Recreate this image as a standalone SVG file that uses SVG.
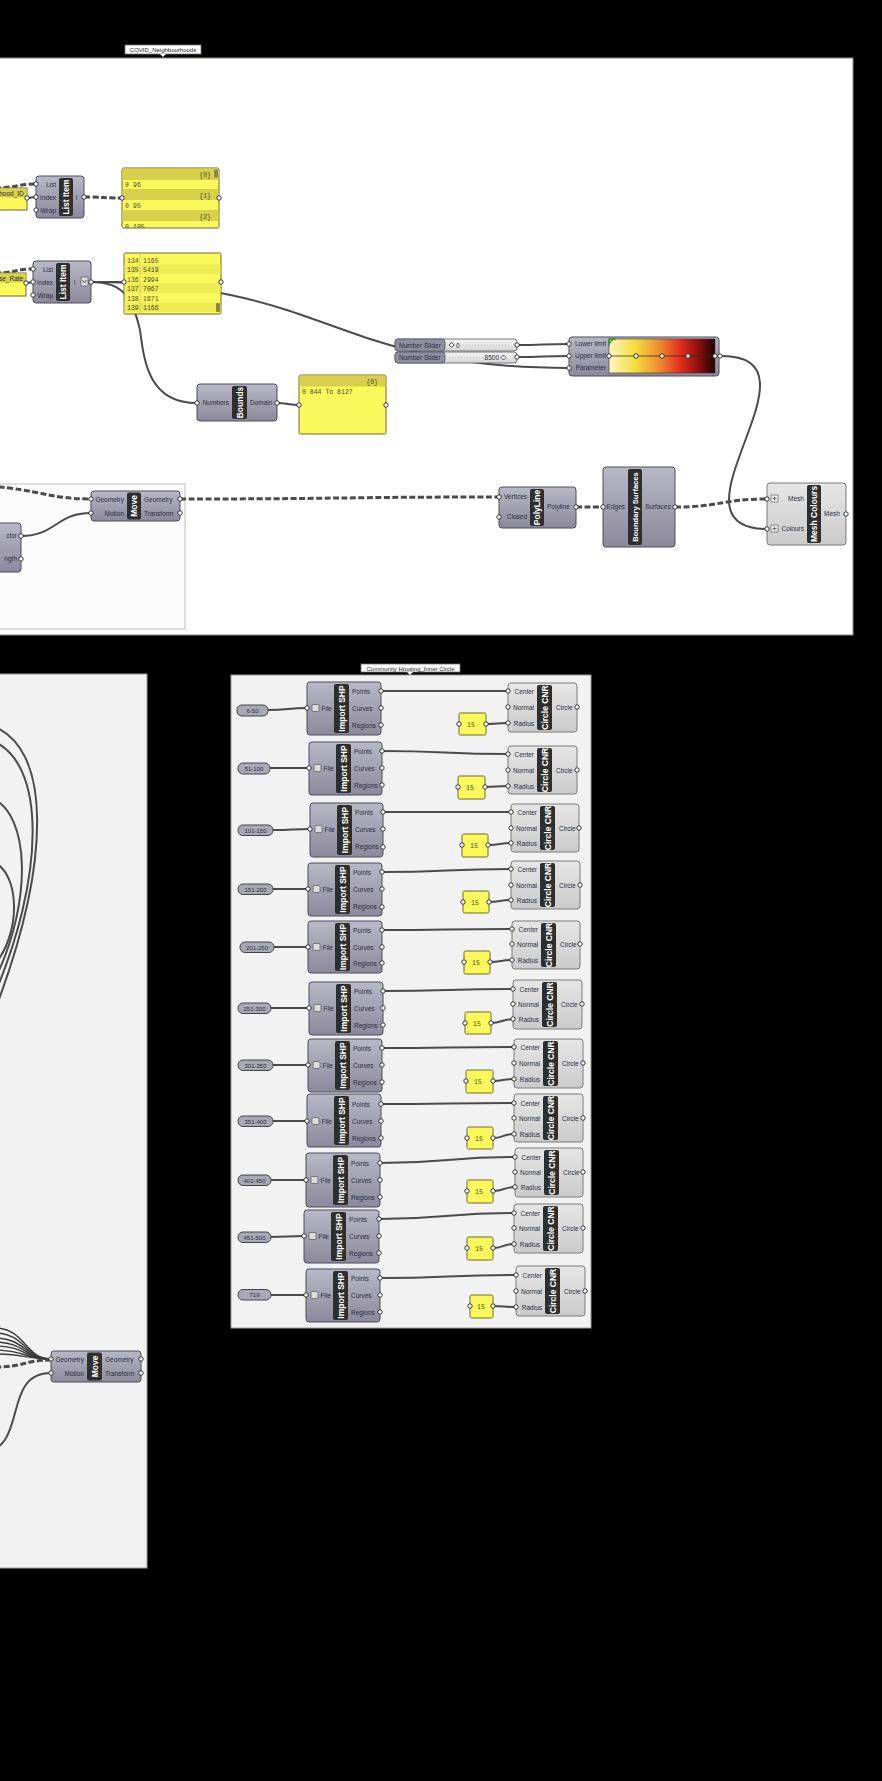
<svg xmlns="http://www.w3.org/2000/svg" width="882" height="1781" viewBox="0 0 882 1781">
<defs>
<linearGradient id="gc" x1="0" y1="0" x2="0" y2="1"><stop offset="0" stop-color="#b9b8c7"/><stop offset="1" stop-color="#8b899b"/></linearGradient>
<linearGradient id="gl" x1="0" y1="0" x2="0" y2="1"><stop offset="0" stop-color="#e6e6e6"/><stop offset="1" stop-color="#cbcbcb"/></linearGradient>
<linearGradient id="gs" x1="0" y1="0" x2="0" y2="1"><stop offset="0" stop-color="#f4f4f4"/><stop offset="1" stop-color="#d6d6d6"/></linearGradient>
<linearGradient id="grad" x1="0" y1="0" x2="1" y2="0"><stop offset="0" stop-color="#fff6c4"/><stop offset="0.25" stop-color="#f5dc3a"/><stop offset="0.48" stop-color="#ef8a30"/><stop offset="0.68" stop-color="#e02a1e"/><stop offset="0.85" stop-color="#8a0f0c"/><stop offset="1" stop-color="#1e0404"/></linearGradient>
<clipPath id="cp1"><rect x="0" y="0" width="97" height="60"/></clipPath>
<clipPath id="cp2"><rect x="0" y="0" width="97" height="61"/></clipPath>
<clipPath id="cph"><rect x="0" y="0" width="31" height="22"/></clipPath>
<clipPath id="cpr"><rect x="0" y="0" width="30" height="23"/></clipPath>
</defs>
<style>
.comp{fill:url(#gc);stroke:#4e4d5a;stroke-width:1}
.compL{fill:url(#gl);stroke:#7a7a7a;stroke-width:1}
.strip{fill:#2e2e2e}
.st{font-family:"Liberation Sans",Arial,sans-serif;font-weight:bold;font-size:8.5px;fill:#fff}
.lb{font-family:"Liberation Sans",Arial,sans-serif;font-size:6.5px;fill:#2b2b3f}
.lbe{font-family:"Liberation Sans",Arial,sans-serif;font-size:6.5px;fill:#2b2b3f;text-anchor:end}
.lbm{font-family:"Liberation Sans",Arial,sans-serif;font-size:6px;fill:#2b2b3f;text-anchor:middle}
.tag{font-family:"Liberation Sans",Arial,sans-serif;font-size:6px;fill:#222;text-anchor:middle}
.port{fill:#fff;stroke:#222;stroke-width:0.9}
.w{fill:none;stroke:#4b4b4b;stroke-width:2}
.wt{fill:none;stroke:#3a3a3a;stroke-width:1.4}
.wd{fill:none;stroke:#4b4b4b;stroke-width:3;stroke-dasharray:6 2.5}
.pan{fill:#fbf85c;stroke:#6e6b2e;stroke-width:1}
.panh{fill:#d8d04a}
.panb{fill:#efeb52}
.mono{font-family:"Liberation Mono","DejaVu Sans Mono",monospace;font-size:6.5px;fill:#4a4a30}
.vl{fill:#a9a8b6;stroke:#444;stroke-width:1}
.grp{fill:#f2f2f2;stroke:#9a9a9a;stroke-width:1}
</style>
<rect x="0" y="0" width="882" height="1781" fill="#000"/>

<!-- Groups -->
<g id="group-covid">
<rect x="-2" y="58" width="855" height="577" fill="#fff" stroke="#8a8a8a" stroke-width="1"/>
<rect x="-2" y="484" width="187" height="145" fill="#fcfcfc" stroke="#bdbdbd" stroke-width="1"/>
<rect x="125" y="45" width="76" height="9" fill="#fff" stroke="#777" stroke-width="0.8"/>
<path d="M160,54 L166,54 L163,57 Z" fill="#fff"/>
<text class="tag" x="163" y="52">COVID_Neighbourhoods</text>
</g>
<g id="group-left">
<rect class="grp" x="-2" y="674" width="149" height="894"/>
</g>
<g id="group-housing">
<rect class="grp" x="231" y="675" width="360" height="653"/>
<rect x="361" y="664" width="99" height="8" fill="#fff" stroke="#777" stroke-width="0.8"/>
<path d="M407,672 L413,672 L410,675 Z" fill="#fff"/>
<text class="tag" x="410.5" y="670.5">Community Housing_Inner Circle</text>
</g>

<!-- Connectors -->
<g id="connectors">
<path class="wd" d="M-5,188 C15,188 18,184 36,184"/>
<path class="w" d="M27,198 C31,198 32,197 36,197"/>
<path class="wd" d="M84,197 C103,197 103,198 122,198"/>
<path class="wd" d="M-5,273 C15,273 15,269 33,269"/>
<path class="w" d="M26,283 C29,283 30,282 33,282"/>
<path class="w" d="M91,282 C108,282 108,282 124,282"/>
<path class="w" d="M91,282 C125,282 133,300 140,330 C144,360 148,403 197,403"/>
<path class="w" d="M91,282 C330,282 330,368 569,368"/>
<path class="w" d="M277,403 C288,403 288,405 299,405"/>
<path class="w" d="M517,345 C543,345 543,344 569,344"/>
<path class="w" d="M517,357 C543,357 543,356 569,356"/>
<path class="w" d="M722,356 C832,356 657,529 767,529"/>
<path class="w" d="M21,536 C56,536 56,513 91,513"/>
<path class="wd" d="M-10,486 C40,490 50,499 91,499"/>
<path class="wd" d="M180,499 C340,499 340,497 499,497"/>
<path class="wd" d="M576,507 C590,507 590,507 603,507"/>
<path class="wd" d="M675,507 C721,507 721,499 767,499"/>
<!-- left group loops -->
<path class="w" d="M-10,725 C52,745 52,860 -5,1010"/>
<path class="w" d="M-10,740 C48,760 45,880 -8,1000"/>
<path class="w" d="M-8,798 C30,815 32,900 -3,975"/>
<path class="w" d="M-6,862 C20,875 20,930 -2,960"/>
<path class="wt" d="M-5,1328 C25,1328 25,1359 51,1359"/>
<path class="wt" d="M-5,1333 C25,1333 25,1359 51,1359"/>
<path class="wt" d="M-5,1338 C25,1338 25,1359 51,1359"/>
<path class="wt" d="M-5,1342 C25,1342 25,1359 51,1359"/>
<path class="wt" d="M-5,1346 C25,1346 25,1359 51,1359"/>
<path class="wt" d="M-5,1350 C25,1350 25,1359 51,1359"/>
<path class="wt" d="M-5,1354 C25,1354 25,1359 51,1359"/>
<path class="wd" d="M-5,1367 C25,1367 25,1360 51,1360"/>
<path class="w" d="M-20,1452 C30,1452 0,1373 51,1373"/>
<!-- housing rows -->
<path class="w" d="M268,710 C288,710 288,708 307,708"/>
<path class="w" d="M381,691 C445,691 445,691 508,691"/>
<path class="w" d="M486,724 C497,724 497,723 508,723"/>
<path class="w" d="M270,768 C290,768 290,768 309,768"/>
<path class="w" d="M382,751 C445,751 445,754 508,754"/>
<path class="w" d="M485,787 C496,787 496,786 508,786"/>
<path class="w" d="M273,830 C292,830 292,829 310,829"/>
<path class="w" d="M383,812 C447,812 447,812 511,812"/>
<path class="w" d="M488,845 C500,845 500,843 511,843"/>
<path class="w" d="M273,889 C290,889 290,889 308,889"/>
<path class="w" d="M382,872 C447,872 447,869 511,869"/>
<path class="w" d="M489,902 C500,902 500,900 511,900"/>
<path class="w" d="M274,947 C291,947 291,947 308,947"/>
<path class="w" d="M382,930 C447,930 447,929 512,929"/>
<path class="w" d="M490,962 C501,962 501,960 512,960"/>
<path class="w" d="M271,1008 C290,1008 290,1008 309,1008"/>
<path class="w" d="M383,991 C448,991 448,989 513,989"/>
<path class="w" d="M491,1023 C502,1023 502,1019 513,1019"/>
<path class="w" d="M273,1065 C290,1065 290,1065 308,1065"/>
<path class="w" d="M382,1048 C448,1048 448,1047 514,1047"/>
<path class="w" d="M493,1081 C503,1081 503,1079 514,1079"/>
<path class="w" d="M273,1121 C290,1121 290,1121 307,1121"/>
<path class="w" d="M381,1104 C448,1104 448,1103 514,1103"/>
<path class="w" d="M493,1138 C503,1138 503,1134 514,1134"/>
<path class="w" d="M271,1180 C288,1180 288,1180 306,1180"/>
<path class="w" d="M380,1163 C448,1163 448,1157 515,1157"/>
<path class="w" d="M493,1191 C504,1191 504,1187 515,1187"/>
<path class="w" d="M271,1237 C287,1237 287,1236 304,1236"/>
<path class="w" d="M379,1219 C446,1219 446,1213 514,1213"/>
<path class="w" d="M493,1248 C503,1248 503,1244 514,1244"/>
<path class="w" d="M271,1295 C288,1295 288,1295 306,1295"/>
<path class="w" d="M380,1278 C448,1278 448,1275 516,1275"/>
<path class="w" d="M493,1306 C504,1306 504,1307 516,1307"/>
</g>

<!-- COVID group nodes -->
<g id="panel-hood-id" transform="translate(-4,188)">
<rect class="pan" x="0" y="0" width="31" height="22"/>
<g clip-path="url(#cph)">
<rect class="panh" x="0.5" y="0.5" width="30" height="9"/>
<text class="lb" x="1" y="7.5">rhood_ID</text>
</g>
<circle class="port" cx="31" cy="10" r="2.2"/>
</g>
<g id="list-item-1" transform="translate(36,176)">
<rect class="comp" x="0" y="0" width="48" height="42" rx="3"/>
<rect class="strip" x="23" y="2" width="14" height="38" rx="2"/>
<text class="st" transform="translate(30,21) rotate(-90)" text-anchor="middle" dominant-baseline="central">List Item</text>
<text class="lbe" x="20" y="10.5">List</text>
<text class="lbe" x="20" y="23.5">Index</text>
<text class="lbe" x="20" y="36.5">Wrap</text>
<text class="lb" x="40" y="23.5">i</text>
<circle class="port" cx="0" cy="8" r="2.2"/><circle class="port" cx="0" cy="21" r="2.2"/><circle class="port" cx="0" cy="34" r="2.2"/>
<circle class="port" cx="48" cy="21" r="2.2"/>
</g>
<g id="panel-1" transform="translate(122,168)">
<rect class="pan" x="0" y="0" width="97" height="60" rx="1.5"/>
<g clip-path="url(#cp1)">
<rect class="panh" x="0.5" y="0.5" width="96" height="11.5"/>
<rect class="panh" x="0.5" y="21" width="96" height="11"/>
<rect class="panh" x="0.5" y="42" width="96" height="11"/>
<text class="mono" x="89" y="8.5" text-anchor="end">{0}</text>
<text class="mono" x="3" y="18.5">0</text><text class="mono" x="11" y="18.5">96</text>
<text class="mono" x="89" y="29.5" text-anchor="end">{1}</text>
<text class="mono" x="3" y="39.5">0</text><text class="mono" x="11" y="39.5">95</text>
<text class="mono" x="89" y="50.5" text-anchor="end">{2}</text>
<text class="mono" x="3" y="61">0</text><text class="mono" x="11" y="61">105</text>
</g>
<rect x="92" y="1.5" width="4" height="8" rx="1" fill="#8a8650"/>
<circle class="port" cx="0" cy="30" r="2.2"/><circle class="port" cx="97" cy="30" r="2.2"/>
</g>
<g id="panel-case-rate" transform="translate(-4,273)">
<rect class="pan" x="0" y="0" width="30" height="23"/>
<g clip-path="url(#cpr)">
<rect class="panh" x="0.5" y="0.5" width="29" height="9"/>
<text class="lb" x="3" y="7.5">se_Rate</text>
</g>
<circle class="port" cx="30" cy="10" r="2.2"/>
</g>
<g id="list-item-2" transform="translate(33,261)">
<rect class="comp" x="0" y="0" width="58" height="42" rx="3"/>
<rect class="strip" x="23" y="2" width="14" height="38" rx="2"/>
<text class="st" transform="translate(30,21) rotate(-90)" text-anchor="middle" dominant-baseline="central">List Item</text>
<text class="lbe" x="20" y="10.5">List</text>
<text class="lbe" x="20" y="23.5">Index</text>
<text class="lbe" x="20" y="36.5">Wrap</text>
<text class="lb" x="41" y="23.5">i</text>
<rect x="48" y="16" width="7" height="9" rx="1" fill="#ddd" stroke="#555" stroke-width="0.7"/>
<path d="M49.5,19 L51.5,22 L53.5,19" fill="none" stroke="#333" stroke-width="0.8"/>
<circle class="port" cx="0" cy="8" r="2.2"/><circle class="port" cx="0" cy="21" r="2.2"/><circle class="port" cx="0" cy="34" r="2.2"/>
<circle class="port" cx="58" cy="21" r="2.2"/>
</g>
<g id="panel-2" transform="translate(124,253)">
<rect class="pan" x="0" y="0" width="97" height="61" rx="1.5"/>
<g clip-path="url(#cp2)">
<rect class="panb" x="0.5" y="11.5" width="96" height="9.5"/>
<rect class="panb" x="0.5" y="30.5" width="96" height="9.5"/>
<rect class="panb" x="0.5" y="49.5" width="96" height="9.5"/>
<line x1="16" y1="0.5" x2="16" y2="60.5" stroke="#cfc94a" stroke-width="0.8"/>
<text class="mono" x="3" y="9.5">134</text><text class="mono" x="19" y="9.5">1165</text>
<text class="mono" x="3" y="19">135</text><text class="mono" x="19" y="19">5419</text>
<text class="mono" x="3" y="28.5">136</text><text class="mono" x="19" y="28.5">2994</text>
<text class="mono" x="3" y="38">137</text><text class="mono" x="19" y="38">7067</text>
<text class="mono" x="3" y="47.5">138</text><text class="mono" x="19" y="47.5">1671</text>
<text class="mono" x="3" y="57">139</text><text class="mono" x="19" y="57">1166</text>
</g>
<rect x="92" y="50" width="4" height="9" rx="1" fill="#8a8650"/>
<circle class="port" cx="0" cy="29" r="2.2"/><circle class="port" cx="97" cy="29" r="2.2"/>
</g>
<g id="bounds" transform="translate(197,384)">
<rect class="comp" x="0" y="0" width="80" height="37" rx="3"/>
<rect class="strip" x="35" y="2" width="15" height="33" rx="2"/>
<text class="st" transform="translate(42.5,18.5) rotate(-90)" text-anchor="middle" dominant-baseline="central">Bounds</text>
<text class="lbe" x="32" y="21">Numbers</text>
<text class="lb" x="53" y="21">Domain</text>
<circle class="port" cx="0" cy="19" r="2.2"/><circle class="port" cx="80" cy="19" r="2.2"/>
</g>
<g id="panel-3" transform="translate(299,375)">
<rect class="pan" x="0" y="0" width="87" height="59" rx="1.5"/>
<rect class="panh" x="0.5" y="0.5" width="86" height="11"/>
<text class="mono" x="79" y="8.5" text-anchor="end">{0}</text>
<text class="mono" x="3" y="19">0 844 To 8127</text>
<circle class="port" cx="0" cy="30" r="2.2"/><circle class="port" cx="87" cy="30" r="2.2"/>
</g>
<g id="slider-1" transform="translate(395,339)">
<rect x="0" y="0" width="122" height="12" rx="3" fill="url(#gs)" stroke="#555" stroke-width="0.8"/>
<rect x="0" y="0" width="50" height="12" rx="3" fill="#8f8ea0" stroke="#555" stroke-width="0.8"/>
<text class="lb" x="4" y="8.5" fill="#1b1b40">Number Slider</text>
<line x1="56" y1="6" x2="116" y2="6" stroke="#bbb" stroke-width="0.8" stroke-dasharray="1 2"/>
<path d="M54,6 L56.5,3.5 L59,6 L56.5,8.5 Z" fill="#fff" stroke="#222" stroke-width="0.8"/>
<text class="lb" x="61" y="8.5">0</text>
<circle class="port" cx="122" cy="6" r="2.2"/>
</g>
<g id="slider-2" transform="translate(395,352)">
<rect x="0" y="0" width="122" height="11" rx="3" fill="url(#gs)" stroke="#555" stroke-width="0.8"/>
<rect x="0" y="0" width="50" height="11" rx="3" fill="#8f8ea0" stroke="#555" stroke-width="0.8"/>
<text class="lb" x="4" y="8" fill="#1b1b40">Number Slider</text>
<line x1="54" y1="5.5" x2="90" y2="5.5" stroke="#bbb" stroke-width="0.8" stroke-dasharray="1 2"/>
<text class="lbe" x="104" y="8">8500</text>
<path d="M106,5.5 L108.5,3 L111,5.5 L108.5,8 Z" fill="#fff" stroke="#222" stroke-width="0.8"/>
<circle class="port" cx="122" cy="5" r="2.2"/>
</g>
<g id="gradient" transform="translate(569,337)">
<rect class="comp" x="0" y="0" width="150" height="39" rx="3"/>
<rect x="40" y="2" width="106" height="34" fill="url(#grad)" stroke="#333" stroke-width="0.6"/>
<path d="M40,9 A7,7 0 0 1 47,2 L40,2 Z" fill="#e8c020" stroke="#2a8a2a" stroke-width="1.2"/>
<line x1="40" y1="19" x2="146" y2="19" stroke="#222" stroke-width="0.7"/>
<circle class="port" cx="40" cy="19" r="2.2"/><circle class="port" cx="67" cy="19" r="2.2"/><circle class="port" cx="93" cy="19" r="2.2"/><circle class="port" cx="119" cy="19" r="2.2"/><circle class="port" cx="146" cy="19" r="2.2"/>
<text class="lbe" x="37" y="9">Lower limit</text>
<text class="lbe" x="37" y="21">Upper limit</text>
<text class="lbe" x="37" y="33">Parameter</text>
<circle class="port" cx="0" cy="7" r="2.2"/><circle class="port" cx="0" cy="19" r="2.2"/><circle class="port" cx="0" cy="31" r="2.2"/>
<circle class="port" cx="151" cy="19" r="2.2"/>
</g>
<g id="vector-partial" transform="translate(-6,523)">
<rect class="comp" x="0" y="0" width="27" height="49" rx="3"/>
<text class="lbe" x="23" y="15">ctor</text>
<text class="lbe" x="23" y="38">ngth</text>
<circle class="port" cx="27" cy="13" r="2.2"/><circle class="port" cx="27" cy="36" r="2.2"/>
</g>
<g id="move-1" transform="translate(91,491)">
<rect class="comp" x="0" y="0" width="89" height="30" rx="3"/>
<rect class="strip" x="36" y="1.5" width="14" height="27" rx="2"/>
<text class="st" transform="translate(43,15) rotate(-90)" text-anchor="middle" dominant-baseline="central">Move</text>
<text class="lbe" x="33" y="10.5">Geometry</text>
<text class="lbe" x="33" y="24.5">Motion</text>
<text class="lb" x="53" y="10.5">Geometry</text>
<text class="lb" x="53" y="24.5">Transform</text>
<circle class="port" cx="0" cy="8" r="2.2"/><circle class="port" cx="0" cy="22" r="2.2"/>
<circle class="port" cx="89" cy="8" r="2.2"/><circle class="port" cx="89" cy="22" r="2.2"/>
</g>
<g id="polyline" transform="translate(499,487)">
<rect class="comp" x="0" y="0" width="77" height="41" rx="3"/>
<rect class="strip" x="31" y="2" width="14" height="37" rx="2"/>
<text class="st" transform="translate(38,20.5) rotate(-90)" text-anchor="middle" dominant-baseline="central">PolyLine</text>
<text class="lbe" x="28" y="12">Vertices</text>
<text class="lbe" x="28" y="32">Closed</text>
<text class="lb" x="48" y="22">Polyline</text>
<circle class="port" cx="0" cy="10" r="2.2"/><circle class="port" cx="0" cy="30" r="2.2"/>
<circle class="port" cx="77" cy="20" r="2.2"/>
</g>
<g id="boundary-surfaces" transform="translate(603,467)">
<rect class="comp" x="0" y="0" width="72" height="80" rx="3"/>
<rect class="strip" x="25" y="2" width="14" height="76" rx="2"/>
<text class="st" style="font-size:7.6px" transform="translate(32,40) rotate(-90)" text-anchor="middle" dominant-baseline="central">Boundary Surfaces</text>
<text class="lbe" x="22" y="42">Edges</text>
<text class="lb" x="42" y="42">Surfaces</text>
<circle class="port" cx="0" cy="40" r="2.2"/><circle class="port" cx="72" cy="40" r="2.2"/>
</g>
<g id="mesh-colours" transform="translate(767,483)">
<rect class="compL" x="0" y="0" width="79" height="62" rx="3"/>
<rect class="strip" x="40" y="2" width="14" height="58" rx="2"/>
<text class="st" transform="translate(47,31) rotate(-90)" text-anchor="middle" dominant-baseline="central">Mesh Colours</text>
<rect x="4" y="12" width="7" height="7" fill="#eee" stroke="#666" stroke-width="0.7"/>
<path d="M7.5,13.5 V17.5 M5.5,15.5 H9.5" stroke="#555" stroke-width="0.8"/>
<rect x="4" y="42" width="7" height="7" fill="#eee" stroke="#666" stroke-width="0.7"/>
<path d="M7.5,43.5 V47.5 M5.5,45.5 H9.5" stroke="#555" stroke-width="0.8"/>
<text class="lbe" x="37" y="18">Mesh</text>
<text class="lbe" x="37" y="48">Colours</text>
<text class="lb" x="57" y="33">Mesh</text>
<circle class="port" cx="0" cy="16" r="2.2"/><circle class="port" cx="0" cy="46" r="2.2"/>
<circle class="port" cx="79" cy="31" r="2.2"/>
</g>

<!-- Left group node -->
<g id="move-2" transform="translate(51,1351)">
<rect class="comp" x="0" y="0" width="90" height="31" rx="3"/>
<rect class="strip" x="36" y="1.5" width="15" height="28" rx="2"/>
<text class="st" transform="translate(43.5,15.5) rotate(-90)" text-anchor="middle" dominant-baseline="central">Move</text>
<text class="lbe" x="33" y="10.5">Geometry</text>
<text class="lbe" x="33" y="24.5">Motion</text>
<text class="lb" x="54" y="10.5">Geometry</text>
<text class="lb" x="54" y="24.5">Transform</text>
<circle class="port" cx="0" cy="8" r="2.2"/><circle class="port" cx="0" cy="22" r="2.2"/>
<circle class="port" cx="90" cy="8" r="2.2"/><circle class="port" cx="90" cy="22" r="2.2"/>
</g>

<!-- Housing rows -->
<g id="val-1" transform="translate(237,705)"><rect class="vl" x="0" y="0" width="31" height="11" rx="5"/><text class="lbm" x="15.5" y="7.8">6-50</text></g>
<g id="val-2" transform="translate(238,763)"><rect class="vl" x="0" y="0" width="32" height="11" rx="5"/><text class="lbm" x="16" y="7.8">51-100</text></g>
<g id="val-3" transform="translate(238,825)"><rect class="vl" x="0" y="0" width="35" height="10.5" rx="5"/><text class="lbm" x="17.5" y="7.5">101-150</text></g>
<g id="val-4" transform="translate(238,884)"><rect class="vl" x="0" y="0" width="35" height="10.5" rx="5"/><text class="lbm" x="17.5" y="7.5">151-200</text></g>
<g id="val-5" transform="translate(240,942)"><rect class="vl" x="0" y="0" width="34" height="10.5" rx="5"/><text class="lbm" x="17" y="7.5">201-250</text></g>
<g id="val-6" transform="translate(238,1003)"><rect class="vl" x="0" y="0" width="33" height="10.5" rx="5"/><text class="lbm" x="16.5" y="7.5">251-300</text></g>
<g id="val-7" transform="translate(238,1060)"><rect class="vl" x="0" y="0" width="35" height="10.5" rx="5"/><text class="lbm" x="17.5" y="7.5">301-350</text></g>
<g id="val-8" transform="translate(238,1116)"><rect class="vl" x="0" y="0" width="35" height="10.5" rx="5"/><text class="lbm" x="17.5" y="7.5">351-400</text></g>
<g id="val-9" transform="translate(238,1175)"><rect class="vl" x="0" y="0" width="33" height="10.5" rx="5"/><text class="lbm" x="16.5" y="7.5">401-450</text></g>
<g id="val-10" transform="translate(238,1232)"><rect class="vl" x="0" y="0" width="33" height="10.5" rx="5"/><text class="lbm" x="16.5" y="7.5">451-500</text></g>
<g id="val-11" transform="translate(238,1289.5)"><rect class="vl" x="0" y="0" width="33" height="10.5" rx="5"/><text class="lbm" x="16.5" y="7.5">719</text></g>

<g id="shp-1" transform="translate(307,682)">
<rect class="comp" x="0" y="0" width="74" height="53" rx="3"/><rect class="strip" x="27" y="2" width="15" height="49" rx="2"/>
<text class="st" transform="translate(34.5,26.5) rotate(-90)" text-anchor="middle" dominant-baseline="central">Import SHP</text>
<rect x="5" y="22.5" width="7" height="7" rx="1" fill="#dcdcdc" stroke="#555" stroke-width="0.7"/>
<text class="lbe" x="25" y="28.5">File</text><text class="lb" x="45" y="11.5">Points</text><text class="lb" x="45" y="28.5">Curves</text><text class="lb" x="45" y="45.5">Regions</text>
<circle class="port" cx="0" cy="26" r="2.2"/><circle class="port" cx="74" cy="9" r="2.2"/><circle class="port" cx="74" cy="26" r="2.2"/><circle class="port" cx="74" cy="43" r="2.2"/>
</g>
<g id="shp-2" transform="translate(309,742)">
<rect class="comp" x="0" y="0" width="73" height="53" rx="3"/><rect class="strip" x="27" y="2" width="15" height="49" rx="2"/>
<text class="st" transform="translate(34.5,26.5) rotate(-90)" text-anchor="middle" dominant-baseline="central">Import SHP</text>
<rect x="5" y="22.5" width="7" height="7" rx="1" fill="#dcdcdc" stroke="#555" stroke-width="0.7"/>
<text class="lbe" x="25" y="28.5">File</text><text class="lb" x="45" y="11.5">Points</text><text class="lb" x="45" y="28.5">Curves</text><text class="lb" x="45" y="45.5">Regions</text>
<circle class="port" cx="0" cy="26" r="2.2"/><circle class="port" cx="73" cy="9" r="2.2"/><circle class="port" cx="73" cy="26" r="2.2"/><circle class="port" cx="73" cy="43" r="2.2"/>
</g>
<g id="shp-3" transform="translate(310,803)">
<rect class="comp" x="0" y="0" width="73" height="54" rx="3"/><rect class="strip" x="27" y="2" width="15" height="50" rx="2"/>
<text class="st" transform="translate(34.5,27) rotate(-90)" text-anchor="middle" dominant-baseline="central">Import SHP</text>
<rect x="5" y="22.5" width="7" height="7" rx="1" fill="#dcdcdc" stroke="#555" stroke-width="0.7"/>
<text class="lbe" x="25" y="28.5">File</text><text class="lb" x="45" y="11.5">Points</text><text class="lb" x="45" y="28.5">Curves</text><text class="lb" x="45" y="46">Regions</text>
<circle class="port" cx="0" cy="26" r="2.2"/><circle class="port" cx="73" cy="9" r="2.2"/><circle class="port" cx="73" cy="26" r="2.2"/><circle class="port" cx="73" cy="44" r="2.2"/>
</g>
<g id="shp-4" transform="translate(308,863)">
<rect class="comp" x="0" y="0" width="74" height="53" rx="3"/><rect class="strip" x="27" y="2" width="15" height="49" rx="2"/>
<text class="st" transform="translate(34.5,26.5) rotate(-90)" text-anchor="middle" dominant-baseline="central">Import SHP</text>
<rect x="5" y="22.5" width="7" height="7" rx="1" fill="#dcdcdc" stroke="#555" stroke-width="0.7"/>
<text class="lbe" x="25" y="28.5">File</text><text class="lb" x="45" y="11.5">Points</text><text class="lb" x="45" y="28.5">Curves</text><text class="lb" x="45" y="45.5">Regions</text>
<circle class="port" cx="0" cy="26" r="2.2"/><circle class="port" cx="74" cy="9" r="2.2"/><circle class="port" cx="74" cy="26" r="2.2"/><circle class="port" cx="74" cy="44" r="2.2"/>
</g>
<g id="shp-5" transform="translate(308,921)">
<rect class="comp" x="0" y="0" width="74" height="52" rx="3"/><rect class="strip" x="27" y="2" width="15" height="48" rx="2"/>
<text class="st" transform="translate(34.5,26) rotate(-90)" text-anchor="middle" dominant-baseline="central">Import SHP</text>
<rect x="5" y="22.5" width="7" height="7" rx="1" fill="#dcdcdc" stroke="#555" stroke-width="0.7"/>
<text class="lbe" x="25" y="28.5">File</text><text class="lb" x="45" y="11.5">Points</text><text class="lb" x="45" y="28.5">Curves</text><text class="lb" x="45" y="44.5">Regions</text>
<circle class="port" cx="0" cy="26" r="2.2"/><circle class="port" cx="74" cy="9" r="2.2"/><circle class="port" cx="74" cy="26" r="2.2"/><circle class="port" cx="74" cy="42" r="2.2"/>
</g>
<g id="shp-6" transform="translate(309,982)">
<rect class="comp" x="0" y="0" width="74" height="53" rx="3"/><rect class="strip" x="27" y="2" width="15" height="49" rx="2"/>
<text class="st" transform="translate(34.5,26.5) rotate(-90)" text-anchor="middle" dominant-baseline="central">Import SHP</text>
<rect x="5" y="22.5" width="7" height="7" rx="1" fill="#dcdcdc" stroke="#555" stroke-width="0.7"/>
<text class="lbe" x="25" y="28.5">File</text><text class="lb" x="45" y="11.5">Points</text><text class="lb" x="45" y="28.5">Curves</text><text class="lb" x="45" y="45.5">Regions</text>
<circle class="port" cx="0" cy="26" r="2.2"/><circle class="port" cx="74" cy="9" r="2.2"/><circle class="port" cx="74" cy="26" r="2.2"/><circle class="port" cx="74" cy="43" r="2.2"/>
</g>
<g id="shp-7" transform="translate(308,1039)">
<rect class="comp" x="0" y="0" width="74" height="53" rx="3"/><rect class="strip" x="27" y="2" width="15" height="49" rx="2"/>
<text class="st" transform="translate(34.5,26.5) rotate(-90)" text-anchor="middle" dominant-baseline="central">Import SHP</text>
<rect x="5" y="22.5" width="7" height="7" rx="1" fill="#dcdcdc" stroke="#555" stroke-width="0.7"/>
<text class="lbe" x="25" y="28.5">File</text><text class="lb" x="45" y="11.5">Points</text><text class="lb" x="45" y="28.5">Curves</text><text class="lb" x="45" y="45.5">Regions</text>
<circle class="port" cx="0" cy="26" r="2.2"/><circle class="port" cx="74" cy="9" r="2.2"/><circle class="port" cx="74" cy="26" r="2.2"/><circle class="port" cx="74" cy="43" r="2.2"/>
</g>
<g id="shp-8" transform="translate(307,1094)">
<rect class="comp" x="0" y="0" width="74" height="53" rx="3"/><rect class="strip" x="27" y="2" width="15" height="49" rx="2"/>
<text class="st" transform="translate(34.5,26.5) rotate(-90)" text-anchor="middle" dominant-baseline="central">Import SHP</text>
<rect x="5" y="23.5" width="7" height="7" rx="1" fill="#dcdcdc" stroke="#555" stroke-width="0.7"/>
<text class="lbe" x="25" y="29.5">File</text><text class="lb" x="45" y="12.5">Points</text><text class="lb" x="45" y="29.5">Curves</text><text class="lb" x="45" y="46.5">Regions</text>
<circle class="port" cx="0" cy="27" r="2.2"/><circle class="port" cx="74" cy="10" r="2.2"/><circle class="port" cx="74" cy="27" r="2.2"/><circle class="port" cx="74" cy="44" r="2.2"/>
</g>
<g id="shp-9" transform="translate(306,1153)">
<rect class="comp" x="0" y="0" width="74" height="54" rx="3"/><rect class="strip" x="27" y="2" width="15" height="50" rx="2"/>
<text class="st" transform="translate(34.5,27) rotate(-90)" text-anchor="middle" dominant-baseline="central">Import SHP</text>
<rect x="5" y="23.5" width="7" height="7" rx="1" fill="#dcdcdc" stroke="#555" stroke-width="0.7"/>
<text class="lbe" x="25" y="29.5">File</text><text class="lb" x="45" y="12.5">Points</text><text class="lb" x="45" y="29.5">Curves</text><text class="lb" x="45" y="46.5">Regions</text>
<circle class="port" cx="0" cy="27" r="2.2"/><circle class="port" cx="74" cy="10" r="2.2"/><circle class="port" cx="74" cy="27" r="2.2"/><circle class="port" cx="74" cy="44" r="2.2"/>
</g>
<g id="shp-10" transform="translate(304,1210)">
<rect class="comp" x="0" y="0" width="75" height="53" rx="3"/><rect class="strip" x="27" y="2" width="15" height="49" rx="2"/>
<text class="st" transform="translate(34.5,26.5) rotate(-90)" text-anchor="middle" dominant-baseline="central">Import SHP</text>
<rect x="5" y="22.5" width="7" height="7" rx="1" fill="#dcdcdc" stroke="#555" stroke-width="0.7"/>
<text class="lbe" x="25" y="28.5">File</text><text class="lb" x="45" y="11.5">Points</text><text class="lb" x="45" y="28.5">Curves</text><text class="lb" x="45" y="45.5">Regions</text>
<circle class="port" cx="0" cy="26" r="2.2"/><circle class="port" cx="75" cy="9" r="2.2"/><circle class="port" cx="75" cy="26" r="2.2"/><circle class="port" cx="75" cy="43" r="2.2"/>
</g>
<g id="shp-11" transform="translate(306,1269)">
<rect class="comp" x="0" y="0" width="74" height="53" rx="3"/><rect class="strip" x="27" y="2" width="15" height="49" rx="2"/>
<text class="st" transform="translate(34.5,26.5) rotate(-90)" text-anchor="middle" dominant-baseline="central">Import SHP</text>
<rect x="5" y="22.5" width="7" height="7" rx="1" fill="#dcdcdc" stroke="#555" stroke-width="0.7"/>
<text class="lbe" x="25" y="28.5">File</text><text class="lb" x="45" y="11.5">Points</text><text class="lb" x="45" y="28.5">Curves</text><text class="lb" x="45" y="45.5">Regions</text>
<circle class="port" cx="0" cy="26" r="2.2"/><circle class="port" cx="74" cy="9" r="2.2"/><circle class="port" cx="74" cy="26" r="2.2"/><circle class="port" cx="74" cy="43" r="2.2"/>
</g>

<g id="circle-1" transform="translate(508,683)">
<rect class="compL" x="0" y="0" width="69" height="49" rx="3"/><rect class="strip" x="29" y="2" width="15" height="45" rx="2"/>
<text class="st" transform="translate(36.5,24.5) rotate(-90)" text-anchor="middle" dominant-baseline="central">Circle CNR</text>
<text class="lbe" x="26" y="10.5">Center</text><text class="lbe" x="26" y="26.5">Normal</text><text class="lbe" x="26" y="42.5">Radius</text><text class="lb" x="48" y="26.5">Circle</text>
<circle class="port" cx="0" cy="8" r="2.2"/><circle class="port" cx="0" cy="24" r="2.2"/><circle class="port" cx="0" cy="40" r="2.2"/><circle class="port" cx="69" cy="24" r="2.2"/>
</g>
<g id="circle-2" transform="translate(508,746)">
<rect class="compL" x="0" y="0" width="69" height="48" rx="3"/><rect class="strip" x="29" y="2" width="15" height="44" rx="2"/>
<text class="st" transform="translate(36.5,24) rotate(-90)" text-anchor="middle" dominant-baseline="central">Circle CNR</text>
<text class="lbe" x="26" y="10.5">Center</text><text class="lbe" x="26" y="26.5">Normal</text><text class="lbe" x="26" y="42.5">Radius</text><text class="lb" x="48" y="26.5">Circle</text>
<circle class="port" cx="0" cy="8" r="2.2"/><circle class="port" cx="0" cy="24" r="2.2"/><circle class="port" cx="0" cy="40" r="2.2"/><circle class="port" cx="69" cy="24" r="2.2"/>
</g>
<g id="circle-3" transform="translate(511,804)">
<rect class="compL" x="0" y="0" width="68" height="48" rx="3"/><rect class="strip" x="29" y="2" width="15" height="44" rx="2"/>
<text class="st" transform="translate(36.5,24) rotate(-90)" text-anchor="middle" dominant-baseline="central">Circle CNR</text>
<text class="lbe" x="26" y="10.5">Center</text><text class="lbe" x="26" y="26.5">Normal</text><text class="lbe" x="26" y="41.5">Radius</text><text class="lb" x="48" y="26.5">Circle</text>
<circle class="port" cx="0" cy="8" r="2.2"/><circle class="port" cx="0" cy="24" r="2.2"/><circle class="port" cx="0" cy="39" r="2.2"/><circle class="port" cx="68" cy="24" r="2.2"/>
</g>
<g id="circle-4" transform="translate(511,861)">
<rect class="compL" x="0" y="0" width="69" height="48" rx="3"/><rect class="strip" x="29" y="2" width="15" height="44" rx="2"/>
<text class="st" transform="translate(36.5,24) rotate(-90)" text-anchor="middle" dominant-baseline="central">Circle CNR</text>
<text class="lbe" x="26" y="10.5">Center</text><text class="lbe" x="26" y="26.5">Normal</text><text class="lbe" x="26" y="41.5">Radius</text><text class="lb" x="48" y="26.5">Circle</text>
<circle class="port" cx="0" cy="8" r="2.2"/><circle class="port" cx="0" cy="24" r="2.2"/><circle class="port" cx="0" cy="39" r="2.2"/><circle class="port" cx="69" cy="24" r="2.2"/>
</g>
<g id="circle-5" transform="translate(512,921)">
<rect class="compL" x="0" y="0" width="68" height="48" rx="3"/><rect class="strip" x="29" y="2" width="15" height="44" rx="2"/>
<text class="st" transform="translate(36.5,24) rotate(-90)" text-anchor="middle" dominant-baseline="central">Circle CNR</text>
<text class="lbe" x="26" y="10.5">Center</text><text class="lbe" x="26" y="25.5">Normal</text><text class="lbe" x="26" y="41.5">Radius</text><text class="lb" x="48" y="25.5">Circle</text>
<circle class="port" cx="0" cy="8" r="2.2"/><circle class="port" cx="0" cy="23" r="2.2"/><circle class="port" cx="0" cy="39" r="2.2"/><circle class="port" cx="68" cy="23" r="2.2"/>
</g>
<g id="circle-6" transform="translate(513,980)">
<rect class="compL" x="0" y="0" width="69" height="49" rx="3"/><rect class="strip" x="29" y="2" width="15" height="45" rx="2"/>
<text class="st" transform="translate(36.5,24.5) rotate(-90)" text-anchor="middle" dominant-baseline="central">Circle CNR</text>
<text class="lbe" x="26" y="11.5">Center</text><text class="lbe" x="26" y="26.5">Normal</text><text class="lbe" x="26" y="41.5">Radius</text><text class="lb" x="48" y="26.5">Circle</text>
<circle class="port" cx="0" cy="9" r="2.2"/><circle class="port" cx="0" cy="24" r="2.2"/><circle class="port" cx="0" cy="39" r="2.2"/><circle class="port" cx="69" cy="24" r="2.2"/>
</g>
<g id="circle-7" transform="translate(514,1039)">
<rect class="compL" x="0" y="0" width="69" height="49" rx="3"/><rect class="strip" x="29" y="2" width="15" height="45" rx="2"/>
<text class="st" transform="translate(36.5,24.5) rotate(-90)" text-anchor="middle" dominant-baseline="central">Circle CNR</text>
<text class="lbe" x="26" y="10.5">Center</text><text class="lbe" x="26" y="26.5">Normal</text><text class="lbe" x="26" y="42.5">Radius</text><text class="lb" x="48" y="26.5">Circle</text>
<circle class="port" cx="0" cy="8" r="2.2"/><circle class="port" cx="0" cy="24" r="2.2"/><circle class="port" cx="0" cy="40" r="2.2"/><circle class="port" cx="69" cy="24" r="2.2"/>
</g>
<g id="circle-8" transform="translate(514,1094)">
<rect class="compL" x="0" y="0" width="69" height="48" rx="3"/><rect class="strip" x="29" y="2" width="15" height="44" rx="2"/>
<text class="st" transform="translate(36.5,24) rotate(-90)" text-anchor="middle" dominant-baseline="central">Circle CNR</text>
<text class="lbe" x="26" y="11.5">Center</text><text class="lbe" x="26" y="26.5">Normal</text><text class="lbe" x="26" y="42.5">Radius</text><text class="lb" x="48" y="26.5">Circle</text>
<circle class="port" cx="0" cy="9" r="2.2"/><circle class="port" cx="0" cy="24" r="2.2"/><circle class="port" cx="0" cy="40" r="2.2"/><circle class="port" cx="69" cy="24" r="2.2"/>
</g>
<g id="circle-9" transform="translate(515,1148)">
<rect class="compL" x="0" y="0" width="68" height="49" rx="3"/><rect class="strip" x="29" y="2" width="15" height="45" rx="2"/>
<text class="st" transform="translate(36.5,24.5) rotate(-90)" text-anchor="middle" dominant-baseline="central">Circle CNR</text>
<text class="lbe" x="26" y="11.5">Center</text><text class="lbe" x="26" y="26.5">Normal</text><text class="lbe" x="26" y="41.5">Radius</text><text class="lb" x="48" y="26.5">Circle</text>
<circle class="port" cx="0" cy="9" r="2.2"/><circle class="port" cx="0" cy="24" r="2.2"/><circle class="port" cx="0" cy="39" r="2.2"/><circle class="port" cx="68" cy="24" r="2.2"/>
</g>
<g id="circle-10" transform="translate(514,1204)">
<rect class="compL" x="0" y="0" width="69" height="49" rx="3"/><rect class="strip" x="29" y="2" width="15" height="45" rx="2"/>
<text class="st" transform="translate(36.5,24.5) rotate(-90)" text-anchor="middle" dominant-baseline="central">Circle CNR</text>
<text class="lbe" x="26" y="11.5">Center</text><text class="lbe" x="26" y="26.5">Normal</text><text class="lbe" x="26" y="42.5">Radius</text><text class="lb" x="48" y="26.5">Circle</text>
<circle class="port" cx="0" cy="9" r="2.2"/><circle class="port" cx="0" cy="24" r="2.2"/><circle class="port" cx="0" cy="40" r="2.2"/><circle class="port" cx="69" cy="24" r="2.2"/>
</g>
<g id="circle-11" transform="translate(516,1266)">
<rect class="compL" x="0" y="0" width="69" height="50" rx="3"/><rect class="strip" x="29" y="2" width="15" height="46" rx="2"/>
<text class="st" transform="translate(36.5,25) rotate(-90)" text-anchor="middle" dominant-baseline="central">Circle CNR</text>
<text class="lbe" x="26" y="11.5">Center</text><text class="lbe" x="26" y="27.5">Normal</text><text class="lbe" x="26" y="43.5">Radius</text><text class="lb" x="48" y="27.5">Circle</text>
<circle class="port" cx="0" cy="9" r="2.2"/><circle class="port" cx="0" cy="25" r="2.2"/><circle class="port" cx="0" cy="41" r="2.2"/><circle class="port" cx="69" cy="25" r="2.2"/>
</g>

<g id="pan15-1" transform="translate(459,713)"><rect class="pan" x="0" y="0" width="27" height="22" rx="1.5"/><text class="mono" x="8" y="13.5">15</text><circle class="port" cx="0" cy="11" r="2.2"/><circle class="port" cx="27" cy="11" r="2.2"/></g>
<g id="pan15-2" transform="translate(458,776)"><rect class="pan" x="0" y="0" width="27" height="23" rx="1.5"/><text class="mono" x="8" y="13.5">15</text><circle class="port" cx="0" cy="11" r="2.2"/><circle class="port" cx="27" cy="11" r="2.2"/></g>
<g id="pan15-3" transform="translate(462,834)"><rect class="pan" x="0" y="0" width="26" height="23" rx="1.5"/><text class="mono" x="8" y="13.5">15</text><circle class="port" cx="0" cy="11" r="2.2"/><circle class="port" cx="26" cy="11" r="2.2"/></g>
<g id="pan15-4" transform="translate(463,891)"><rect class="pan" x="0" y="0" width="26" height="22" rx="1.5"/><text class="mono" x="8" y="13.5">15</text><circle class="port" cx="0" cy="11" r="2.2"/><circle class="port" cx="26" cy="11" r="2.2"/></g>
<g id="pan15-5" transform="translate(464,951)"><rect class="pan" x="0" y="0" width="26" height="23" rx="1.5"/><text class="mono" x="8" y="13.5">15</text><circle class="port" cx="0" cy="11" r="2.2"/><circle class="port" cx="26" cy="11" r="2.2"/></g>
<g id="pan15-6" transform="translate(465,1012)"><rect class="pan" x="0" y="0" width="26" height="22" rx="1.5"/><text class="mono" x="8" y="13.5">15</text><circle class="port" cx="0" cy="11" r="2.2"/><circle class="port" cx="26" cy="11" r="2.2"/></g>
<g id="pan15-7" transform="translate(466,1070)"><rect class="pan" x="0" y="0" width="27" height="23" rx="1.5"/><text class="mono" x="8" y="13.5">15</text><circle class="port" cx="0" cy="11" r="2.2"/><circle class="port" cx="27" cy="11" r="2.2"/></g>
<g id="pan15-8" transform="translate(467,1127)"><rect class="pan" x="0" y="0" width="26" height="22" rx="1.5"/><text class="mono" x="8" y="13.5">15</text><circle class="port" cx="0" cy="11" r="2.2"/><circle class="port" cx="26" cy="11" r="2.2"/></g>
<g id="pan15-9" transform="translate(467,1180)"><rect class="pan" x="0" y="0" width="26" height="23" rx="1.5"/><text class="mono" x="8" y="13.5">15</text><circle class="port" cx="0" cy="11" r="2.2"/><circle class="port" cx="26" cy="11" r="2.2"/></g>
<g id="pan15-10" transform="translate(467,1237)"><rect class="pan" x="0" y="0" width="26" height="23" rx="1.5"/><text class="mono" x="8" y="13.5">15</text><circle class="port" cx="0" cy="11" r="2.2"/><circle class="port" cx="26" cy="11" r="2.2"/></g>
<g id="pan15-11" transform="translate(470,1295)"><rect class="pan" x="0" y="0" width="23" height="23" rx="1.5"/><text class="mono" x="7" y="13.5">15</text><circle class="port" cx="0" cy="11" r="2.2"/><circle class="port" cx="23" cy="11" r="2.2"/></g>
</svg>
